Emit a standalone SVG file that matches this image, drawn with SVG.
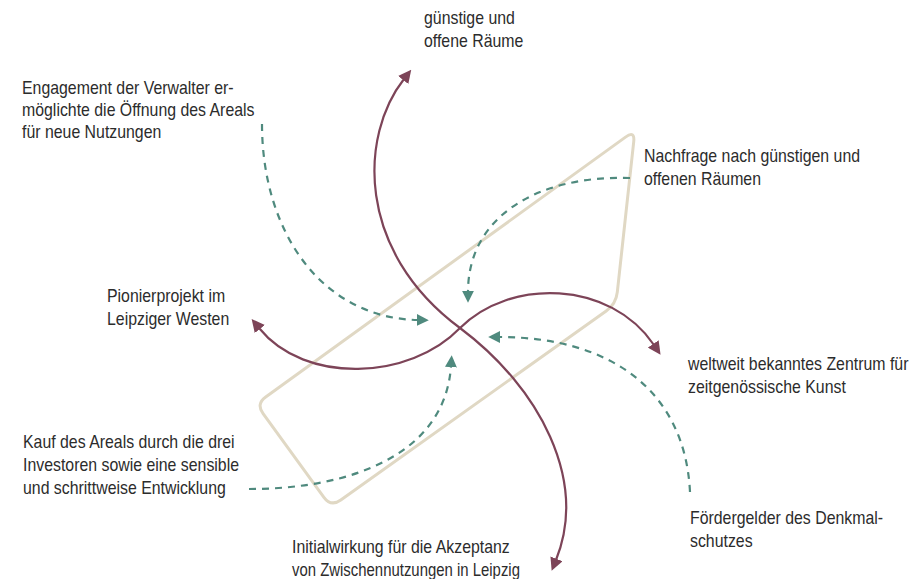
<svg xmlns="http://www.w3.org/2000/svg" width="911" height="579" viewBox="0 0 911 579">
  <defs>
    <style>
      text { font-family: "Liberation Sans", Arial, sans-serif; font-size: 19px; fill: #2c2c2c; }
      .frame { fill: none; stroke: #e0d8c4; stroke-width: 3; }
      .flow { fill: none; stroke: #7d4458; stroke-width: 2.2; }
      .factor { fill: none; stroke: #4f8a7e; stroke-width: 2.2; stroke-dasharray: 7 6; }
    </style>
    <marker id="head-red" viewBox="0 0 10 10" refX="1" refY="5" markerWidth="13" markerHeight="13" markerUnits="userSpaceOnUse" orient="auto-start-reverse">
      <path d="M0,0 L10,5 L0,10 Z" fill="#7d4458"/>
    </marker>
    <marker id="head-green" viewBox="0 0 10 10" refX="1" refY="5" markerWidth="12" markerHeight="12" markerUnits="userSpaceOnUse" orient="auto">
      <path d="M0,0 L10,5 L0,10 Z" fill="#4f8a7e"/>
    </marker>
  </defs>

  <!-- site outline -->
  <g id="site">
    <path class="frame" d="M265.7,397 L625.5,137.1 Q635,130 633.7,141.9 L617.3,292.1 Q616,304 606.2,311 L340.8,500 Q331,507 323.9,497.3 L263.1,413.7 Q256,404 265.7,397 Z"/>
  </g>

  <g id="connectors">
    <path class="flow" marker-start="url(#head-red)" marker-end="url(#head-red)" d="M404,79 C360,135 355,250 460,328 C540,388 588,480 556,560"/>
    <path class="flow" marker-start="url(#head-red)" marker-end="url(#head-red)" d="M259,328 C305,385 410,380 460,328 C510,278 610,280 654,345"/>
    <path class="factor" marker-end="url(#head-green)" d="M262,124 C262,230 320,318 418,320"/>
    <path class="factor" marker-end="url(#head-green)" d="M630,178 C540,175 468,215 468,292"/>
    <path class="factor" marker-end="url(#head-green)" d="M690,492 C685,390 610,337 499,337"/>
    <path class="factor" marker-end="url(#head-green)" d="M249,489 C350,489 445,455 451,366"/>
  </g>

  <!-- labels: condensed by a horizontal scale -->
  <g id="label-raeume" transform="translate(424 0) scale(0.835 1)">
    <text x="0" y="24">günstige und</text>
    <text x="0" y="47">offene Räume</text>
  </g>
  <g id="label-engagement" transform="translate(22 0) scale(0.835 1)">
    <text x="0" y="94">Engagement der Verwalter er-</text>
    <text x="0" y="116">möglichte die Öffnung des Areals</text>
    <text x="0" y="138">für neue Nutzungen</text>
  </g>
  <g id="label-nachfrage" transform="translate(644 0) scale(0.835 1)">
    <text x="0" y="162">Nachfrage nach günstigen und</text>
    <text x="0" y="185">offenen Räumen</text>
  </g>
  <g id="label-pionier" transform="translate(107 0) scale(0.835 1)">
    <text x="0" y="302">Pionierprojekt im</text>
    <text x="0" y="325">Leipziger Westen</text>
  </g>
  <g id="label-zentrum" transform="translate(688 0) scale(0.835 1)">
    <text x="0" y="370">weltweit bekanntes Zentrum für</text>
    <text x="0" y="393">zeitgenössische Kunst</text>
  </g>
  <g id="label-kauf" transform="translate(23 0) scale(0.835 1)">
    <text x="0" y="448">Kauf des Areals durch die drei</text>
    <text x="0" y="471">Investoren sowie eine sensible</text>
    <text x="0" y="494">und schrittweise Entwicklung</text>
  </g>
  <g id="label-foerder" transform="translate(690 0) scale(0.835 1)">
    <text x="0" y="524">Fördergelder des Denkmal-</text>
    <text x="0" y="547">schutzes</text>
  </g>
  <g id="label-initial" transform="translate(292 0) scale(0.835 1)">
    <text x="0" y="553">Initialwirkung für die Akzeptanz</text>
    <text x="0" y="576" textLength="273" lengthAdjust="spacingAndGlyphs">von Zwischennutzungen in Leipzig</text>
  </g>
</svg>
